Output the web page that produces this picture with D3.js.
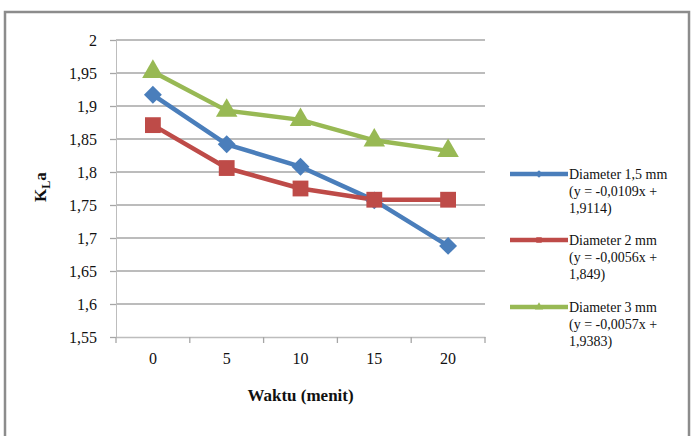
<!DOCTYPE html>
<html>
<head>
<meta charset="utf-8">
<script src="https://cdn.jsdelivr.net/npm/d3@7"></script>
<style>
  body { margin: 0; background: #fff; }
  svg text { font-family: "Liberation Serif", "DejaVu Serif", serif !important; fill: #111; }
</style>
</head>
<body>
<div id="chart"></div>
<script>
const times = ['0', '5', '10', '15', '20'];
const yTicks = [1.55, 1.6, 1.65, 1.7, 1.75, 1.8, 1.85, 1.9, 1.95, 2];

const dia15 = [1.917, 1.842, 1.808, 1.757, 1.688];
const dia2 = [1.871, 1.806, 1.775, 1.758, 1.758];
const dia3 = [1.952, 1.893, 1.879, 1.848, 1.832];

const seriesNames = ['Diameter 1,5 mm', 'Diameter 2 mm', 'Diameter 3 mm'];
const seriesEq = [['(y = -0,0109x +', '1,9114)'], ['(y = -0,0056x +', '1,849)'], ['(y = -0,0057x +', '1,9383)']];
const seriesColors = ['#4a7ebb', '#be4b48', '#98b954'];
const seriesMarkers = [d3.symbolSquare, d3.symbolSquare, d3.symbolTriangle];
const markerRotate = [45, 0, 0];
const markerSize = [160, 250, 200];

let W = 696, H = 436;
let margin = { top: 40, right: 211, bottom: 99, left: 116 };

let svg = d3.select('#chart').append('svg')
    .attr('width', W)
    .attr('height', H);

// outer frame
svg.append('rect')
    .attr('x', 5).attr('y', 12)
    .attr('width', 684).attr('height', 440)
    .attr('fill', 'none')
    .attr('stroke', '#8c8c8c')
    .attr('stroke-width', 2.5);

let width = W - margin.left - margin.right;
let height = H - margin.top - margin.bottom;

let g = svg.append('g')
    .attr('transform', 'translate(' + margin.left + ',' + margin.top + ')');

let x = d3.scaleBand().domain(times).range([0, width]);
let y = d3.scaleLinear().domain([1.55, 2]).range([height, 0]);

// gridlines
g.selectAll('.grid').data(yTicks.slice(1)).enter().append('line')
    .attr('x1', 0).attr('x2', width)
    .attr('y1', d => y(d)).attr('y2', d => y(d))
    .attr('stroke', '#a6a6a6').attr('stroke-width', 1.3);

// y axis
let yAxis = g.append('g')
    .call(d3.axisLeft(y).tickValues(yTicks).tickSize(6).tickPadding(13)
        .tickFormat(d => d3.format('.2~f')(d).replace('.', ',')));
yAxis.attr('font-family', null);
yAxis.select('.domain').attr('stroke', '#bdbdbd');
yAxis.selectAll('.tick line').attr('stroke', '#a6a6a6').attr('stroke-width', 1.3);
yAxis.selectAll('text').style('font-size', '16px');

// x axis
let xAxis = g.append('g')
    .attr('transform', 'translate(0,' + height + ')')
    .call(d3.axisBottom(x).tickSize(0).tickPadding(16));
xAxis.attr('font-family', null);
xAxis.select('.domain').attr('stroke', '#bdbdbd').attr('stroke-width', 1.3);
xAxis.selectAll('text').style('font-size', '16px');
// ticks between categories
let bounds = times.map(t => x(t)).concat([width]);
xAxis.selectAll('.btick').data(bounds).enter().append('line')
    .attr('x1', d => d).attr('x2', d => d)
    .attr('y1', 0).attr('y2', 6)
    .attr('stroke', '#a6a6a6').attr('stroke-width', 1.3);

// axis titles
svg.append('text')
    .attr('x', margin.left + width / 2).attr('y', 401)
    .attr('text-anchor', 'middle')
    .style('font-size', '17px').style('font-weight', 'bold')
    .text('Waktu (menit)');

let yt = svg.append('text')
    .attr('transform', 'translate(46,187) rotate(-90)')
    .attr('text-anchor', 'middle')
    .style('font-size', '17px').style('font-weight', 'bold');
yt.append('tspan').text('K');
yt.append('tspan').attr('dy', 4).style('font-size', '12px').text('L');
yt.append('tspan').attr('dy', -4).text('a');

// series
let allData = [dia15, dia2, dia3];
let line = d3.line().x((d, i) => x(times[i]) + x.bandwidth() / 2).y(d => y(d));

allData.forEach(function(vals, s) {
    g.append('path')
        .datum(vals)
        .attr('d', line)
        .attr('fill', 'none')
        .attr('stroke', seriesColors[s])
        .attr('stroke-width', 4.5)
        .attr('stroke-linejoin', 'round');
});

allData.forEach(function(vals, s) {
    g.selectAll('.m' + s).data(vals).enter().append('path')
        .attr('d', d3.symbol().type(seriesMarkers[s]).size(markerSize[s]))
        .attr('transform', (d, i) => 'translate(' + (x(times[i]) + x.bandwidth() / 2) + ',' + y(d) + ') rotate(' + markerRotate[s] + ')')
        .attr('fill', seriesColors[s]);
});

// legend
let legendTop = [174, 240, 307];
seriesNames.forEach(function(name, s) {
    let lg = svg.append('g').attr('transform', 'translate(510,' + legendTop[s] + ')');
    lg.append('line')
        .attr('x1', 0).attr('x2', 58)
        .attr('stroke', seriesColors[s]).attr('stroke-width', 4.5);
    lg.append('path')
        .attr('d', d3.symbol().type(seriesMarkers[s]).size(30))
        .attr('transform', 'translate(29,0) rotate(' + markerRotate[s] + ')')
        .attr('fill', seriesColors[s]);
    let lines = [name].concat(seriesEq[s]);
    lines.forEach(function(t, k) {
        lg.append('text')
            .attr('x', 59).attr('y', 5 + k * 17)
            .style('font-size', '14px')
            .text(t);
    });
});
</script>
</body>
</html>
